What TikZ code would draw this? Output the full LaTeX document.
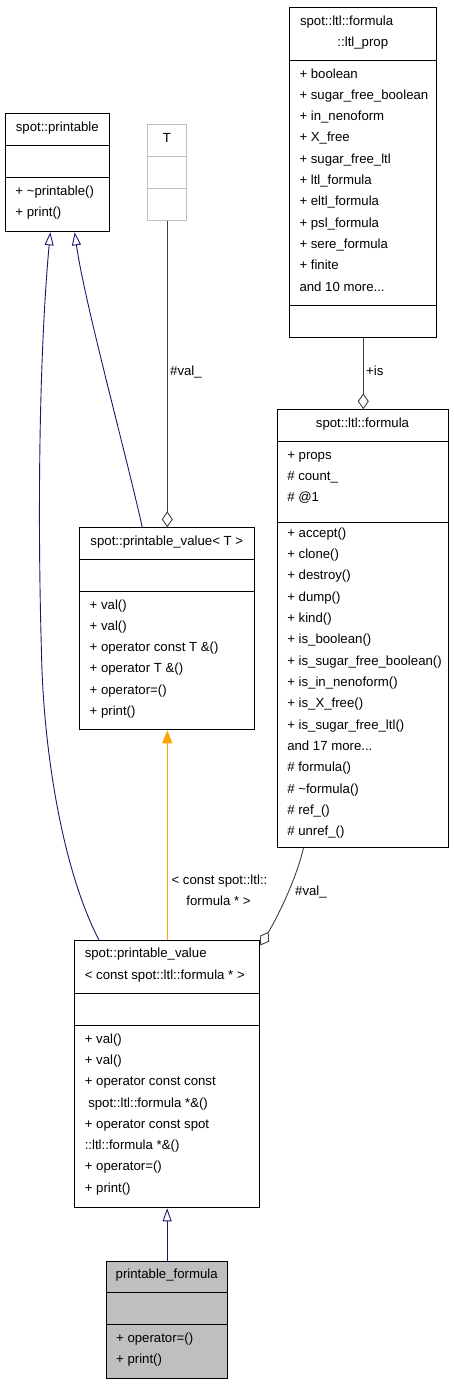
\documentclass[tikz,border=0pt]{standalone}
\usepackage{fontspec}
\setmainfont{Liberation Sans}
\usetikzlibrary{arrows.meta}
\definecolor{edgeblue}{HTML}{191970}
\definecolor{edgeorange}{HTML}{FFA500}
\definecolor{boxgray}{HTML}{BFBFBF}
\definecolor{edgedark}{HTML}{404040}
\tikzset{
  umlbox/.style={draw=black, line width=1pt, inner sep=0pt, anchor=north west},
  divline/.style={draw=black, line width=1pt},
  mem/.style={anchor=base west, inner sep=0pt, font=\fontsize{13.2}{16}\selectfont},
  memc/.style={anchor=base, inner sep=0pt, font=\fontsize{13.2}{16}\selectfont},
  inh/.style={draw=edgeblue, line width=0.9pt, -{Triangle[open, length=13pt, width=9pt]}},
  tmpl/.style={draw=edgeorange, line width=0.9pt, -{Triangle[length=13pt, width=10pt]}},
  usage/.style={draw=edgedark, line width=0.9pt, -{Diamond[open, length=16pt, width=11pt]}},
}
\newcommand\umldots{...}
\newcommand\umlmembers[4]{%
  \foreach \txt [count=\k from 0] in {#4} {\node[mem] (#1-\k) at (#2, {#3+21.33*\k}) {\txt};}}
\newcommand\umldiv[3][black]{\draw[divline, draw=#1] ([yshift=-#3pt]#2.north west) -- ([yshift=-#3pt]#2.north east);}
\begin{document}
\begin{tikzpicture}[x=1pt, y=-1pt]
\useasboundingbox (0,0) rectangle (453,1384);
\fill[white] (0,0) rectangle (453,1384);

% spot::printable
\node[umlbox, minimum width=104pt, minimum height=118pt] (printable) at (5.3,113.3) {};
\umldiv{printable}{32}
\umldiv{printable}{64}
\node[memc] (printable-t) at (57.3,131) {spot::printable};
\umlmembers{printable-m}{15.3}{195}{+ \textasciitilde printable(), + print()}

% T
\node[umlbox, draw=boxgray, minimum width=39pt, minimum height=96pt] (T) at (147.3,124.3) {};
\umldiv[boxgray]{T}{32}
\umldiv[boxgray]{T}{64}
\node[memc] (T-t) at (166.8,142) {T};

% spot::ltl::formula::ltl_prop
\node[umlbox, minimum width=147pt, minimum height=329.7pt] (ltlprop) at (289.3,7.3) {};
\umldiv{ltlprop}{53}
\umldiv{ltlprop}{297.7}
\node[mem] (ltlprop-t1) at (299.8,25) {spot::ltl::formula};
\node[memc] (ltlprop-t2) at (362.8,46.3) {::ltl\_prop};
\umlmembers{ltlprop-a}{299.3}{78}{+ boolean, + sugar\_free\_boolean, + in\_nenoform, + X\_free, + sugar\_free\_ltl, + ltl\_formula, + eltl\_formula, + psl\_formula, + sere\_formula, + finite, and 10 more\umldots}

% spot::ltl::formula
\node[umlbox, minimum width=170.4pt, minimum height=437.5pt] (formula) at (277.3,409.3) {};
\umldiv{formula}{32}
\umldiv{formula}{113.4}
\node[memc] (formula-t) at (362.5,427) {spot::ltl::formula};
\umlmembers{formula-a}{287.1}{459}{+ props, \# count\_, \# @1}
\umlmembers{formula-m}{287.1}{537.2}{+ accept(), + clone(), + destroy(), + dump(), + kind(), + is\_boolean(), + is\_sugar\_free\_boolean(), + is\_in\_nenoform(), + is\_X\_free(), + is\_sugar\_free\_ltl(), and 17 more\umldots, \# formula(), \# \textasciitilde formula(), \# ref\_(), \# unref\_()}

% spot::printable_value< T >
\node[umlbox, minimum width=175pt, minimum height=202pt] (pvT) at (79.3,527.3) {};
\umldiv{pvT}{32}
\umldiv{pvT}{64}
\node[memc] (pvT-t) at (166.8,545) {spot::printable\_value< T >};
\umlmembers{pvT-m}{89.5}{609}{+ val(), + val(), + operator const T \&(), + operator T \&(), + operator=(), + print()}

% spot::printable_value< const spot::ltl::formula * >
\node[umlbox, minimum width=185pt, minimum height=267.3pt] (pv2) at (74.3,940) {};
\umldiv{pv2}{53.3}
\umldiv{pv2}{85.3}
\umlmembers{pv2-t}{84.6}{957.7}{spot::printable\_value, < const spot::ltl::formula * >}
\umlmembers{pv2-m}{84.6}{1043}{+ val(), + val(), + operator const const, \hspace*{3.5pt}spot::ltl::formula *\&(), + operator const spot, ::ltl::formula *\&(), + operator=(), + print()}

% printable_formula
\node[umlbox, fill=boxgray, minimum width=121.3pt, minimum height=117pt] (pf) at (106,1260.7) {};
\umldiv{pf}{32}
\umldiv{pf}{64}
\node[memc] (pf-t) at (166.7,1278.4) {printable\_formula};
\umlmembers{pf-m}{116}{1342.4}{+ operator=(), + print()}

% connectors
\draw[inh] (pf.north) -- (pf.north |- pv2.south);
\draw[tmpl] (pv2.north) -- (pvT.south);
\draw[inh] ([xshift=63pt]pvT.north west) .. controls (125,450) and (84,300) .. ([xshift=69.4pt]printable.south west);
\draw[inh] ([xshift=24.7pt]pv2.north west) .. controls (60,865) and (43,740) .. (41.5,653) .. controls (37,500) and (40,345) .. ([xshift=45pt]printable.south west);
\draw[usage] (T.south) -- (T.south |- pvT.north);
\draw[usage] (ltlprop.south) -- (ltlprop.south |- formula.north);
\draw[usage] ([xshift=26.2pt]formula.south west) .. controls (296,880) and (277,918) .. ([yshift=-5.5pt]pv2.north east);

% labels
\node[mem] (lbl-valT) at (170,375.5) {\#val\_};
\node[mem] (lbl-is) at (366,375) {+is};
\node[memc] (lbl-tmpl1) at (219.5,884.5) {< const spot::ltl::};
\node[memc] (lbl-tmpl2) at (218.5,905) {formula * >};
\node[mem] (lbl-val2) at (295,895.5) {\#val\_};
\end{tikzpicture}
\end{document}
